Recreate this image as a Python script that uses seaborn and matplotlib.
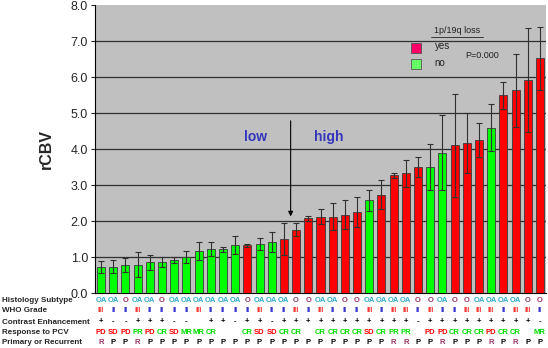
import numpy as np
import matplotlib.pyplot as plt
import seaborn as sns
import pandas as pd

# rCBV mean and error per patient (sorted)
rcbv = [0.73, 0.73, 0.77, 0.79, 0.85, 0.85, 0.92, 1.00, 1.17, 1.22, 1.22, 1.32,
        1.33, 1.37, 1.41, 1.50, 1.76, 2.07, 2.12, 2.12, 2.17, 2.24, 2.57, 2.73,
        3.27, 3.32, 3.50, 3.50, 3.90, 4.10, 4.16, 4.25, 4.59, 5.49, 5.63, 5.92, 6.52]
err = [0.17, 0.18, 0.20, 0.34, 0.20, 0.14, 0.08, 0.17, 0.24, 0.19, 0.07, 0.25,
       0.04, 0.17, 0.28, 0.45, 0.19, 0.08, 0.20, 0.37, 0.40, 0.42, 0.30, 0.41,
       0.07, 0.38, 0.28, 0.63, 1.05, 1.44, 0.84, 0.46, 0.65, 0.37, 1.02, 1.44, 0.87]
# 1p/19q loss: y = yes, n = no
loss = list("nnnnnnnnnnnnynnyyyyyyynyyyynnyyynyyyy")

histology = ["OA", "OA", "O", "OA", "OA", "O", "OA", "OA", "OA", "OA", "OA", "OA",
             "O", "OA", "OA", "OA", "O", "O", "OA", "OA", "O", "O", "OA", "OA",
             "OA", "OA", "O", "O", "OA", "O", "O", "OA", "OA", "OA", "OA", "O", "O"]
who = ["III", "II", "II", "III", "II", "II", "II", "II", "III", "II", "II", "II",
       "II", "III", "II", "II", "III", "II", "III", "II", "II", "II",
       "III", "II", "III", "III", "II", "III", "II", "II", "III", "III", "III", "II", "III", "III", "II"]
contrast = ["+", "-", "-", "+", "+", "+", "-", "-", "", "+", "+", "-",
            "+", "+", "-", "+", "+", "+", "+", "+", "+", "+", "+", "+",
            "+", "+", "-", "+", "+", "+", "+", "+", "+", "+", "+", "+", "-"]
response = ["PD", "SD", "PD", "PR", "PD", "CR", "SD", "MR", "MR", "CR", "", "",
            "CR", "SD", "SD", "CR", "CR", "", "CR", "CR", "CR", "CR", "SD", "CR",
            "PR", "PR", "", "PD", "PD", "CR", "CR", "CR", "PD", "CR", "CR", "", "MR"]
primary = ["R", "P", "P", "R", "P", "P", "P", "P", "P", "P", "P", "P",
           "P", "P", "P", "P", "P", "P", "P", "P", "P", "P", "P", "P",
           "R", "R", "P", "P", "R", "P", "P", "P", "R", "P", "R", "P", "P"]

row_names = ["Histology Subtype", "WHO Grade", "Contrast Enhancement",
             "Response to PCV", "Primary or Recurrent"]

df = pd.DataFrame({"pt": np.arange(len(rcbv)), "rcbv": rcbv, "err": err, "loss": loss})

sns.set_theme(style="white")
plt.rcParams["font.family"] = ["Liberation Sans", "DejaVu Sans"]

fig = plt.figure(figsize=(5.48, 3.48), dpi=100)
ax = fig.add_axes([95 / 548, 1 - 293 / 348, 451 / 548, 288 / 348])
ax.set_facecolor("#c0c0c0")

sns.barplot(data=df, x="pt", y="rcbv", hue="loss", dodge=False, legend=False,
            palette={"y": "#ff0000", "n": "#00ff00"}, edgecolor="#3a3a3a",
            linewidth=0.6, width=0.66, saturation=1, ax=ax, zorder=3)
ax.errorbar(df["pt"], df["rcbv"], yerr=df["err"], fmt="none", ecolor="#303030",
            elinewidth=0.8, capsize=2.5, capthick=0.8, zorder=4)

ax.set_ylim(0, 8)
ax.set_xlim(-0.5, len(rcbv) - 0.5)
ax.set_yticks(np.arange(0, 9, 1))
ax.set_yticklabels(["{:.1f}".format(v) for v in range(9)], fontsize=9)
for v in range(1, 8):
    ax.axhline(v, color="#303030", lw=0.9, zorder=1)
ax.set_xticks([])
ax.set_xlabel("")
ax.set_ylabel("rCBV", fontsize=11.5, fontweight="bold", labelpad=12)
ax.tick_params(axis="y", length=3, width=0.8, direction="out", left=True, pad=2)
for s in ["top", "right"]:
    ax.spines[s].set_visible(False)
for s in ["left", "bottom"]:
    ax.spines[s].set_color("black")
    ax.spines[s].set_linewidth(0.8)

# low / high cut-off
ax.annotate("", xy=(15.55, 2.05), xytext=(15.55, 4.86),
            arrowprops=dict(arrowstyle="-|>", color="black", lw=0.8, mutation_scale=7))
ax.text(12.7, 4.33, "low", color="#3333bb", fontsize=10, fontweight="bold", ha="center", va="center")
ax.text(18.7, 4.33, "high", color="#3333bb", fontsize=10, fontweight="bold", ha="center", va="center")

# legend box
ax.text(29.2, 7.3, "1p/19q loss", fontsize=6.5, color="#222222", ha="center", va="center")
ax.plot([27.1, 31.3], [7.12, 7.12], color="#222222", lw=0.6)
ax.scatter([25.8], [6.8], marker="s", s=45, color="#ff0066", edgecolor="#555555", lw=0.6, zorder=5)
ax.scatter([25.8], [6.35], marker="s", s=45, color="#66ff66", edgecolor="#555555", lw=0.6, zorder=5)
ax.text(28.0, 6.85, "yes", fontsize=7, ha="center", va="center", color="#222222")
ax.text(27.8, 6.38, "no", fontsize=7, ha="center", va="center", color="#222222")
ax.text(31.3, 6.6, "P=0.000", fontsize=6.5, ha="center", va="center", color="#222222")

# annotation rows under the bars
colors = {
    "OA": "#33aacc", "O": "#993366", "III": "#ff3333", "II": "#3333cc",
    "+": "black", "-": "black", "PD": "#ff0000", "SD": "#ff0000",
    "PR": "#00dd00", "CR": "#00dd00", "MR": "#00dd00", "R": "#993366", "P": "black", "": "black",
}
rows = [histology, who, contrast, response, primary]
row_y = [301, 311, 322, 332, 343]
tr = ax.get_xaxis_transform()
for name, vals, yy in zip(row_names, rows, row_y):
    fig.text(2 / 548, 1 - yy / 348, name, fontsize=5.8, fontweight="bold", ha="left", va="center")
    for i, t in enumerate(vals):
        ax.text(i, (293 - yy) / 288, t, transform=tr, fontsize=5.5, fontweight="bold",
                color=colors[t], ha="center", va="center", clip_on=False)

fig.savefig("out.png", dpi=100)
